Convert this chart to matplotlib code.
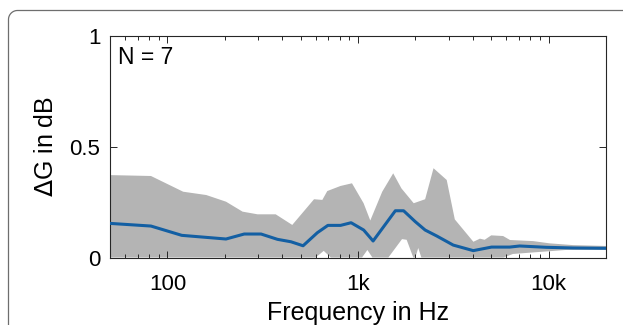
import numpy as np
import matplotlib
matplotlib.use('Agg')
import matplotlib.pyplot as plt
from matplotlib.ticker import LogLocator, NullFormatter, FixedLocator, FixedFormatter

# mean curve
mean_f = [50, 82, 119, 203, 253, 310, 378, 445, 515, 612, 695, 810, 920, 1071, 1200,
          1570, 1735, 1996, 2250, 2590, 3160, 4024, 5020, 6250, 7050, 9730, 13400, 20000]
mean_v = [0.154, 0.142, 0.100, 0.0835, 0.106, 0.106, 0.082, 0.071, 0.053, 0.112, 0.145,
          0.145, 0.157, 0.124, 0.0745, 0.211, 0.211, 0.162, 0.124, 0.097, 0.056, 0.031,
          0.047, 0.047, 0.052, 0.046, 0.043, 0.0415]

# upper edge of the grey band
upper_f = [50, 82, 121, 160, 203, 248, 297, 370, 452, 588, 650, 690, 810, 930, 1070, 1160,
           1340, 1530, 1690, 1960, 2250, 2490, 2920, 3220, 4030, 4360, 4620, 5000, 5770,
           6270, 8300, 10100, 13400, 20000]
upper_v = [0.372, 0.368, 0.297, 0.282, 0.252, 0.207, 0.195, 0.195, 0.147, 0.263, 0.26, 0.30,
           0.323, 0.335, 0.245, 0.167, 0.297, 0.380, 0.312, 0.245, 0.263, 0.403, 0.350,
           0.172, 0.071, 0.085, 0.08, 0.10, 0.097, 0.079, 0.074, 0.064, 0.056, 0.052]

# lower edge of the grey band
lower_f = [50, 600, 661, 720, 1050, 1120, 1190, 1443, 1702, 1800, 1950, 2000, 2070, 2150,
           5800, 6500, 12300, 20000]
lower_v = [0, 0, 0.03, 0, 0, 0.034, 0, 0, 0.083, 0.08, 0, 0, 0.043, 0,
           0, 0.016, 0.034, 0.035]

x_ticks = [100, 1000, 10000]
x_labels = ['100', '1k', '10k']
y_ticks = [0, 0.5, 1]
y_labels = ['0', '0.5', '1']

plt.rcParams['font.family'] = ['Liberation Sans', 'DejaVu Sans']

fig = plt.figure(figsize=(6.23, 3.25), dpi=100)
W, H = 623.0, 325.0

# panel frame: left and top edges with a rounded corner, cut off right/bottom
bg = fig.add_axes([0, 0, 1, 1], zorder=-1)
bg.set_xlim(0, W)
bg.set_ylim(H, 0)
bg.axis('off')
r = 9
t = np.linspace(np.pi, 1.5 * np.pi, 20)
fx = np.concatenate([[8.5, 8.5], 8.5 + r + r * np.cos(t), [W + 5]])
fy = np.concatenate([[H + 5, 10.5 + r], 10.5 + r + r * np.sin(t), [10.5]])
bg.plot(fx, fy, color='#6e6e6e', linewidth=0.9)

ax = fig.add_axes([110 / W, (H - 257.5) / H, (606 - 110) / W, (257.5 - 36) / H])

# grey band
poly_x = list(upper_f) + list(lower_f[::-1])
poly_y = list(upper_v) + list(lower_v[::-1])
ax.fill(poly_x, poly_y, color='#b4b4b4', linewidth=0, zorder=1)

ax.plot(mean_f, mean_v, color='#135fa3', linewidth=2.2, zorder=3)

ax.set_xscale('log')
ax.set_xlim(50, 20000)
ax.set_ylim(0, 1)
ax.xaxis.set_major_locator(FixedLocator(x_ticks))
ax.xaxis.set_major_formatter(FixedFormatter(x_labels))
ax.xaxis.set_minor_locator(LogLocator(base=10, subs=np.arange(2, 10)))
ax.xaxis.set_minor_formatter(NullFormatter())
ax.yaxis.set_major_locator(FixedLocator(y_ticks))
ax.yaxis.set_major_formatter(FixedFormatter(y_labels))

ax.tick_params(which='both', direction='in', top=True, right=True, colors='#262626',
               labelcolor='black', labelsize=16, width=0.7)
ax.tick_params(which='major', length=5)
ax.tick_params(which='minor', length=3)
ax.tick_params(axis='x', pad=12)
ax.tick_params(axis='y', pad=7)
for s in ax.spines.values():
    s.set_color('#262626')
    s.set_linewidth(0.8)

ax.set_xlabel('Frequency in Hz', fontsize=18)
ax.set_ylabel(r'$\Delta$G in dB', fontsize=18)
ax.xaxis.set_label_coords(0.5, -0.196)
ax.yaxis.set_label_coords(-0.105, 0.5)

ax.text(8 / 496, 0.872, 'N = 7', transform=ax.transAxes, fontsize=16.5, va='baseline', ha='left')

plt.savefig('out.png', dpi=100)
